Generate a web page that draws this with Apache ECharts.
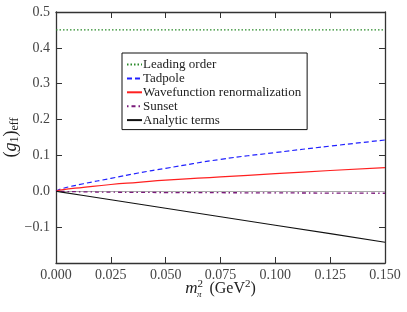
<!DOCTYPE html>
<html><head><meta charset="utf-8">
<script src="https://cdn.jsdelivr.net/npm/echarts@6/dist/echarts.min.js"></script>
<style>html,body{margin:0;padding:0;background:#fff}#c{width:407px;height:312px}</style>
</head><body><div id="c"></div>
<script>
const xs = [0, 0.0025, 0.0125, 0.025, 0.0375, 0.05, 0.075, 0.1, 0.125, 0.15];
const leadingOrder = [0.45, 0.45, 0.45, 0.45, 0.45, 0.45, 0.45, 0.45, 0.45, 0.45];
const tadpole = [0, 0.007, 0.021, 0.036, 0.051, 0.064, 0.089, 0.108, 0.126, 0.143];
const wavefunction = [0, 0.004, 0.011, 0.019, 0.025, 0.031, 0.040, 0.049, 0.058, 0.066];
const sunset = [0, -0.0005, -0.0015, -0.0025, -0.003, -0.0035, -0.004, -0.0045, -0.005, -0.0055];
const analytic = [0, -0.0024, -0.0118, -0.0237, -0.0355, -0.0473, -0.071, -0.0947, -0.118, -0.142];
const names = ['Leading order', 'Tadpole', 'Wavefunction renormalization', 'Sunset', 'Analytic terms'];
const xTicks = [0, 0.025, 0.05, 0.075, 0.1, 0.125, 0.15];
const yTicks = [-0.1, 0.0, 0.1, 0.2, 0.3, 0.4, 0.5];

const font = 'Liberation Serif';
const pairs = arr => xs.map((x, i) => [x, arr[i]]);
const axisCol = '#333';
const chart = echarts.init(document.getElementById('c'), null, {renderer: 'canvas'});
function mk(name, arr, color, type, width, smooth) {
  return {name, type: 'line', data: pairs(arr), showSymbol: false, symbol: 'none', smooth: smooth,
    xAxisIndex: 0, yAxisIndex: 0,
    lineStyle: {color, type, width}, itemStyle: {color}, z: 3};
}
const series = [
  mk(names[0], leadingOrder, '#2a8a2a', [1.5, 2], 1.3, false),
  mk(names[1], tadpole, '#2020ff', [5, 3], 1.2, true),
  mk(names[2], wavefunction, '#ff2020', 'solid', 1.2, true),
  mk(names[3], sunset, '#7a1a7a', [1.5, 3, 4, 3], 1.3, true),
  mk(names[4], analytic, '#111', 'solid', 1.1, false)
];
series[4].markLine = {silent: true, symbol: 'none', label: {show: false},
  lineStyle: {color: '#aaa', type: 'solid', width: 1}, data: [{yAxis: 0}], z: 1};
const fmtY = v => {
  if (v < -0.15) return '';
  const s = Math.abs(v).toFixed(1);
  return v < -1e-9 ? '\u2212' + s : s;
};
const lineAx = {show: true, onZero: false, lineStyle: {color: axisCol, width: 1.3}};
const tickAx = {inside: true, length: 6, lineStyle: {color: axisCol}};
chart.setOption({
  animation: false,
  grid: {left: 56, right: 22, top: 12, bottom: 49, containLabel: false, outerBoundsMode: 'none'},
  legend: {
    orient: 'vertical', left: 122, top: 53, data: names,
    itemWidth: 15, itemHeight: 10, itemGap: 0.9,
    itemStyle: {opacity: 0},
    borderColor: '#111', borderWidth: 1, borderRadius: 0,
    padding: [5, 6, 3, 4],
    textStyle: {fontFamily: font, fontSize: 13, lineHeight: 12, color: '#222', padding: [0, 0, 0, -4]}
  },
  xAxis: [{
    type: 'value', min: 0, max: 0.15, interval: 0.025, position: 'bottom',
    name: '{m|m}{s|2}{p|π}  (GeV{t|2})', nameLocation: 'middle', nameGap: 16, nameMoveOverlap: false,
    nameTextStyle: {fontFamily: font, fontSize: 16, color: '#222', verticalAlign: 'top',
      rich: {m: {fontFamily: font, fontStyle: 'italic', fontSize: 17, color: '#222'},
             s: {fontFamily: font, fontSize: 11, verticalAlign: 'top', padding: [0, 0, 9, 0], color: '#222'},
             p: {fontFamily: font, fontStyle: 'italic', fontSize: 9, verticalAlign: 'bottom', padding: [7, 0, 0, -6], color: '#222'},
             t: {fontFamily: font, fontSize: 11, verticalAlign: 'top', padding: [0, 0, 9, 0], color: '#222'}}},
    axisLine: lineAx, axisTick: tickAx,
    axisLabel: {fontFamily: font, fontSize: 14, color: '#444', margin: 5, formatter: v => v.toFixed(3)},
    splitLine: {show: false}
  }, {
    type: 'value', min: 0, max: 0.15, interval: 0.025, position: 'top',
    axisLine: lineAx, axisTick: tickAx,
    axisLabel: {show: false}, splitLine: {show: false}
  }],
  yAxis: [{
    type: 'value', min: -0.2, max: 0.5, interval: 0.1, position: 'left',
    name: '{a|(}{g|g}{b|1}{a|)}{c|eff}', nameLocation: 'middle', nameGap: 35, nameRotate: 90, nameMoveOverlap: false,
    nameTextStyle: {fontFamily: font, fontSize: 16, color: '#222',
      rich: {a: {fontFamily: font, fontSize: 18, color: '#222'},
             g: {fontFamily: font, fontStyle: 'italic', fontSize: 18, color: '#222'},
             b: {fontFamily: font, fontSize: 12, verticalAlign: 'bottom', padding: [7, 0, 0, 0], color: '#222'},
             c: {fontFamily: font, fontSize: 12, verticalAlign: 'bottom', padding: [7, 0, 0, 0], color: '#222'}}},
    axisLine: lineAx, axisTick: tickAx,
    axisLabel: {fontFamily: font, fontSize: 14, color: '#444', margin: 6, formatter: fmtY},
    splitLine: {show: false}
  }, {
    type: 'value', min: -0.2, max: 0.5, interval: 0.1, position: 'right',
    axisLine: lineAx, axisTick: tickAx,
    axisLabel: {show: false}, splitLine: {show: false}
  }],
  series
});
</script></body></html>
